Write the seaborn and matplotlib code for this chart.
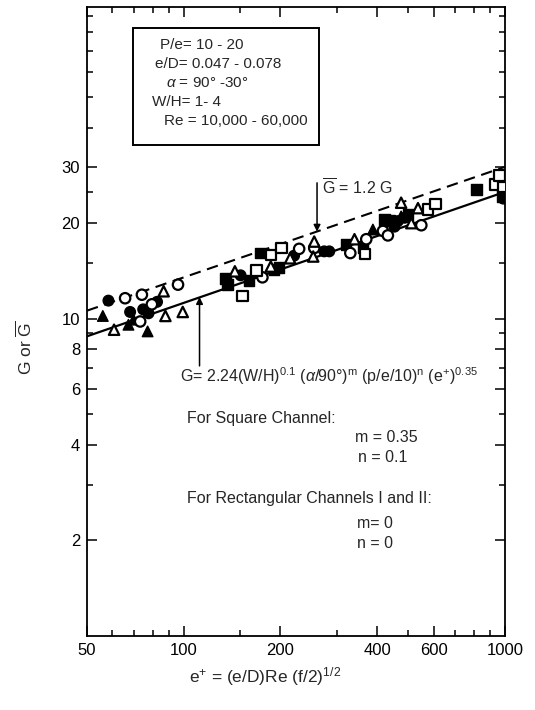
import numpy as np
import pandas as pd
import matplotlib
matplotlib.use("Agg")
import matplotlib.pyplot as plt
import seaborn as sns
from matplotlib import font_manager
from matplotlib.patches import Rectangle
from matplotlib.ticker import FixedLocator, NullFormatter

# ---------------- data ----------------
fc_x = [58.3, 68.1, 77.7, 82.6, 74.8, 150.3, 220.6, 273.7, 283.8, 453, 464, 487, 988]
fc_y = [11.4, 10.5, 10.4, 11.3, 10.7, 13.7, 15.8, 16.3, 16.3, 19.5, 20.3, 20.8, 23.9]
oc_x = [65.7, 74.1, 73.2, 79.6, 96.0, 175.8, 228.7, 254.8, 330, 370, 417, 432, 549]
oc_y = [11.6, 11.9, 9.8, 11.1, 12.8, 13.5, 16.6, 16.7, 16.1, 17.8, 18.9, 18.3, 19.7]
ft_x = [56.0, 67.3, 77.2, 69.8, 388, 475]
ft_y = [10.2, 9.57, 9.12, 9.93, 19.1, 21.0]
ot_x = [60.7, 86.6, 87.7, 99.3, 144.3, 186.6, 214.4, 254.8, 253, 340, 475, 511, 536]
ot_y = [9.23, 12.2, 10.2, 10.5, 14.1, 14.6, 15.5, 17.5, 15.7, 17.8, 23.2, 20.0, 22.3]
fs_x = [135, 136.6, 159.6, 191.1, 198.1, 173.6, 320, 361, 421.5, 437, 499, 815, 981]
fs_y = [13.4, 12.8, 13.2, 14.3, 14.5, 16.1, 17.1, 16.7, 20.5, 20.4, 21.3, 25.5, 24.3]
os_x = [152.2, 168.7, 186.6, 201.6, 367, 576, 607, 930, 960, 988]
os_y = [11.8, 14.2, 15.9, 16.7, 16.0, 22.1, 23.0, 26.5, 28.3, 26.0]

line_x = [50, 1000]
solid_y = [8.8, 25.1]      # G = 2.24 (e+)^0.35
dashed_y = [10.6, 30.1]    # G-bar = 1.2 G

x_ticks = [50, 100, 200, 400, 600, 1000]
x_minor = [60, 70, 80, 90, 150, 300, 500, 700, 800, 900]
y_ticks = [2, 4, 6, 8, 10, 20, 30]
y_minor = [3, 5, 7, 9, 15, 25, 40, 50, 60, 70, 80, 90]

# ---------------- style ----------------
sns.set_style("ticks")
names = {f.name for f in font_manager.fontManager.ttflist}
fam = "Liberation Sans Narrow" if "Liberation Sans Narrow" in names else "Liberation Sans"
plt.rcParams["font.family"] = [fam, "DejaVu Sans"]
plt.rcParams["mathtext.fontset"] = "custom"
plt.rcParams["mathtext.rm"] = fam
plt.rcParams["mathtext.it"] = fam + ":italic"
plt.rcParams["mathtext.bf"] = fam + ":bold"

W, H = 535, 710
fig = plt.figure(figsize=(W / 100, H / 100), dpi=100)
fx = lambda x: x / W
fy = lambda y: 1 - y / H
ax = fig.add_axes([fx(87), fy(636), (505 - 87) / W, (636 - 7) / H])

frames = []
for lab, xs, ys in [("fc", fc_x, fc_y), ("oc", oc_x, oc_y), ("ft", ft_x, ft_y),
                    ("ot", ot_x, ot_y), ("fs", fs_x, fs_y), ("os", os_x, os_y)]:
    frames.append(pd.DataFrame({"x": xs, "y": ys, "sym": lab}))
df = pd.concat(frames, ignore_index=True)

mk = {"fc": "o", "oc": "o", "ft": "^", "ot": "^", "fs": "s", "os": "s"}

sns.lineplot(x=line_x, y=solid_y, ax=ax, color="black", lw=1.6)
sns.lineplot(x=line_x, y=dashed_y, ax=ax, color="black", lw=1.5, linestyle=(0, (5.5, 3.2)))

filled = df[df.sym.str.startswith("f")]
opened = df[df.sym.str.startswith("o")]
sns.scatterplot(data=filled, x="x", y="y", style="sym", markers=mk, ax=ax,
                color="black", edgecolor="black", s=58, linewidth=1.0, legend=False, zorder=3)
sns.scatterplot(data=opened, x="x", y="y", style="sym", markers=mk, ax=ax,
                facecolor="white", edgecolor="black", s=56, linewidth=1.6, legend=False, zorder=3)

ax.set_xscale("log")
ax.set_yscale("log")
ax.set_xlim(50, 1000)
ax.set_ylim(1, 96)
ax.set_xticks(x_ticks)
ax.set_xticklabels([str(v) for v in x_ticks])
ax.xaxis.set_minor_locator(FixedLocator(x_minor))
ax.xaxis.set_minor_formatter(NullFormatter())
ax.set_yticks(y_ticks)
ax.set_yticklabels([str(v) for v in y_ticks])
ax.yaxis.set_minor_locator(FixedLocator(y_minor))
ax.yaxis.set_minor_formatter(NullFormatter())
ax.tick_params(which="both", direction="in", top=True, right=True, labelsize=12,
               width=1.1, colors="black")
ax.tick_params(which="major", length=7, pad=5)
ax.tick_params(which="minor", length=4)
for s in ax.spines.values():
    s.set_linewidth(1.3)
    s.set_color("black")
ax.set_xlabel("")
ax.set_ylabel("")

# arrows
ax.annotate("", xy=(260, 18.8), xytext=(260, 26.8),
            arrowprops=dict(arrowstyle="-|>", color="black", lw=1.1, mutation_scale=10,
                            shrinkA=0, shrinkB=0))
ax.annotate("", xy=(112, 11.7), xytext=(112, 7.1),
            arrowprops=dict(arrowstyle="-|>", color="black", lw=1.1, mutation_scale=10,
                            shrinkA=0, shrinkB=0))

# box
fig.patches.append(Rectangle((fx(133), fy(145)), (319 - 133) / W, (145 - 28) / H,
                             transform=fig.transFigure, fill=False, lw=1.4, ec="black"))
fs_ = 11.5
box_fs = 11
box_lines = [(160, 45, "P/e= 10 - 20"),
             (155, 64, "e/D= 0.047 - 0.078"),
             (166, 83, r"$\alpha$ = 90° -30°"),
             (152, 102, "W/H= 1- 4"),
             (164, 121, "Re = 10,000 - 60,000")]
for x, y, t in box_lines:
    fig.text(fx(x), fy(y), t, ha="left", va="center", fontsize=box_fs)

fig.text(fx(322), fy(188), r"$\overline{\mathrm{G}}$ = 1.2 G", ha="left", va="center", fontsize=fs_)
fig.text(fx(180), fy(376),
         r"G= 2.24(W/H)$^{0.1}$ ($\alpha$/90°)$^{\mathrm{m}}$ (p/e/10)$^{\mathrm{n}}$ (e$^{+}$)$^{0.35}$",
         ha="left", va="center", fontsize=fs_)
fig.text(fx(187), fy(418), "For Square Channel:", ha="left", va="center", fontsize=fs_)
fig.text(fx(355), fy(438), "m = 0.35", ha="left", va="center", fontsize=fs_)
fig.text(fx(358), fy(458), "n = 0.1", ha="left", va="center", fontsize=fs_)
fig.text(fx(187), fy(499), "For Rectangular Channels I and II:", ha="left", va="center", fontsize=fs_)
fig.text(fx(357), fy(524), "m= 0", ha="left", va="center", fontsize=fs_)
fig.text(fx(357), fy(543), "n = 0", ha="left", va="center", fontsize=fs_)

fig.text(fx(25), fy(348), r"G or $\overline{\mathrm{G}}$", rotation=90, ha="center", va="center",
         fontsize=12.5)
fig.text(fx(265), fy(677), r"e$^{+}$ = (e/D)Re (f/2)$^{1/2}$", ha="center", va="center", fontsize=12.5)

fig.savefig("out.png", dpi=100)
